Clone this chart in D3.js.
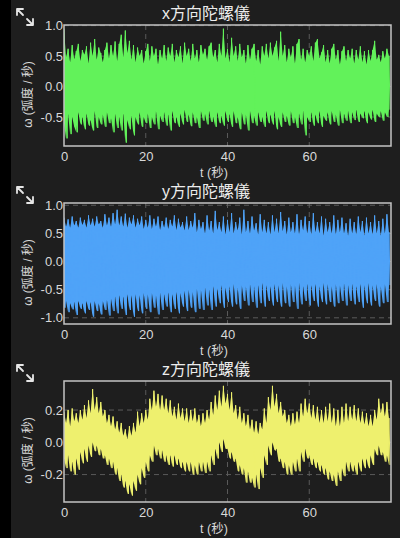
<!DOCTYPE html>
<meta charset="utf-8">
<title>陀螺儀</title>
<style>
  body { margin: 0; background: #1e1e1e; }
  svg { display: block; }
  text { font-family: "Liberation Sans", "Noto Sans CJK TC", sans-serif; }
</style>
<svg width="400" height="538"></svg>
<script src="https://d3js.org/d3.v7.min.js"></script>
<script>

// sample bins: one max/min pair per half second, 0 .. 79.5 s
var binStep = 0.5;
var xTicks = [0, 20, 40, 60];

var xGyroHi = [0.95,0.48,0.62,0.4,0.68,0.45,0.58,0.7,0.42,0.6,
  0.52,0.66,0.38,0.72,0.5,0.78,0.44,0.64,0.55,0.4,
  0.6,0.72,0.46,0.68,0.5,0.74,0.42,0.7,0.85,0.48,
  0.92,0.55,0.75,0.44,0.68,0.4,0.64,0.5,0.6,0.38,
  0.58,0.7,0.42,0.66,0.5,0.62,0.36,0.6,0.46,0.68,
  0.42,0.64,0.5,0.7,0.4,0.6,0.48,0.66,0.38,0.72,
  0.5,0.62,0.42,0.7,0.46,0.6,0.4,0.68,0.52,0.62,
  0.44,0.66,0.72,0.48,0.6,0.4,0.7,0.5,0.95,0.46,
  0.62,0.4,0.8,0.5,0.66,0.42,0.7,0.48,0.6,0.38,
  0.68,0.44,0.62,0.7,0.42,0.6,0.36,0.66,0.5,0.7,
  0.46,0.72,0.5,0.64,0.75,0.42,0.9,0.5,0.68,0.4,
  0.62,0.48,0.66,0.38,0.7,0.78,0.44,0.62,0.4,0.6,
  0.5,0.66,0.42,0.72,0.78,0.46,0.56,0.68,0.4,0.6,
  0.38,0.62,0.7,0.44,0.6,0.36,0.58,0.66,0.42,0.6,
  0.46,0.62,0.38,0.6,0.44,0.66,0.4,0.58,0.36,0.6,
  0.42,0.6,0.75,0.44,0.52,0.4,0.58,0.46,0.62,0.5];
var xGyroLo = [-0.6,-0.85,-0.45,-0.78,-0.5,-0.66,-0.75,-0.42,-0.62,-0.5,
  -0.7,-0.44,-0.64,-0.55,-0.72,-0.4,-0.68,-0.5,-0.62,-0.46,
  -0.66,-0.42,-0.6,-0.52,-0.75,-0.45,-0.68,-0.5,-0.72,-0.44,
  -0.92,-0.55,-0.7,-0.48,-0.8,-0.5,-0.62,-0.42,-0.66,-0.5,
  -0.6,-0.44,-0.68,-0.5,-0.62,-0.4,-0.7,-0.48,-0.58,-0.42,
  -0.64,-0.46,-0.72,-0.4,-0.6,-0.5,-0.66,-0.44,-0.62,-0.38,
  -0.58,-0.46,-0.65,-0.42,-0.6,-0.5,-0.68,-0.4,-0.56,-0.45,
  -0.62,-0.4,-0.58,-0.5,-0.66,-0.42,-0.6,-0.48,-0.64,-0.4,
  -0.58,-0.45,-0.66,-0.4,-0.6,-0.5,-0.7,-0.42,-0.62,-0.46,
  -0.72,-0.4,-0.6,-0.48,-0.64,-0.42,-0.58,-0.5,-0.66,-0.4,
  -0.6,-0.46,-0.62,-0.4,-0.7,-0.5,-0.66,-0.42,-0.58,-0.48,
  -0.64,-0.4,-0.6,-0.5,-0.68,-0.44,-0.62,-0.4,-0.8,-0.5,
  -0.58,-0.42,-0.64,-0.46,-0.6,-0.4,-0.66,-0.48,-0.56,-0.42,
  -0.62,-0.4,-0.58,-0.46,-0.64,-0.38,-0.6,-0.44,-0.56,-0.4,
  -0.6,-0.42,-0.55,-0.38,-0.58,-0.44,-0.52,-0.4,-0.6,-0.42,
  -0.54,-0.38,-0.58,-0.44,-0.5,-0.4,-0.56,-0.42,-0.5,-0.38];

var yGyroHi = [0.78,0.62,0.75,0.6,0.8,0.64,0.72,0.6,0.78,0.65,
  0.74,0.6,0.82,0.64,0.76,0.62,0.8,0.66,0.72,0.6,
  0.84,0.64,0.78,0.62,0.86,0.66,0.92,0.64,0.8,0.62,
  0.85,0.6,0.78,0.66,0.82,0.6,0.76,0.64,0.8,0.58,
  0.74,0.6,0.82,0.58,0.76,0.62,0.8,0.56,0.72,0.6,
  0.78,0.58,0.74,0.62,0.82,0.56,0.76,0.6,0.7,0.55,
  0.8,0.56,0.72,0.6,0.86,0.52,0.74,0.58,0.7,0.5,
  0.82,0.55,0.72,0.5,0.9,0.56,0.7,0.52,0.8,0.48,
  0.74,0.52,0.86,0.5,0.7,0.55,0.78,0.48,0.92,0.52,
  0.72,0.5,0.8,0.55,0.68,0.48,0.84,0.52,0.74,0.5,
  0.7,0.48,0.82,0.52,0.76,0.5,0.88,0.54,0.72,0.48,
  0.78,0.52,0.7,0.5,0.84,0.48,0.74,0.55,0.8,0.5,
  0.72,0.48,0.86,0.52,0.7,0.5,0.8,0.46,0.76,0.52,
  0.7,0.5,0.82,0.48,0.74,0.52,0.78,0.5,0.68,0.46,
  0.76,0.5,0.7,0.48,0.8,0.52,0.72,0.46,0.78,0.5,
  0.7,0.48,0.82,0.5,0.72,0.46,0.76,0.5,0.84,0.52];
var yGyroLo = [-0.82,-0.7,-0.9,-0.74,-0.85,-0.72,-0.95,-0.7,-0.84,-0.74,
  -0.92,-0.7,-0.86,-0.72,-0.98,-0.7,-0.88,-0.74,-0.94,-0.7,
  -0.86,-0.68,-0.96,-0.66,-0.88,-0.62,-0.92,-0.6,-0.84,-0.62,
  -0.95,-0.58,-0.86,-0.6,-0.98,-0.58,-0.88,-0.6,-0.92,-0.56,
  -0.84,-0.58,-0.9,-0.56,-0.82,-0.6,-0.94,-0.56,-0.86,-0.58,
  -0.8,-0.55,-0.9,-0.58,-0.84,-0.54,-0.92,-0.56,-0.8,-0.52,
  -0.88,-0.5,-0.82,-0.54,-0.9,-0.48,-0.84,-0.5,-0.86,-0.46,
  -0.78,-0.5,-0.86,-0.44,-0.8,-0.48,-0.74,-0.42,-0.82,-0.46,
  -0.72,-0.44,-0.8,-0.4,-0.76,-0.46,-0.84,-0.42,-0.7,-0.44,
  -0.78,-0.4,-0.72,-0.44,-0.82,-0.42,-0.74,-0.38,-0.8,-0.42,
  -0.7,-0.44,-0.78,-0.4,-0.72,-0.42,-0.8,-0.38,-0.74,-0.44,
  -0.8,-0.4,-0.72,-0.42,-0.84,-0.38,-0.76,-0.44,-0.7,-0.4,
  -0.78,-0.42,-0.7,-0.4,-0.8,-0.44,-0.72,-0.38,-0.76,-0.4,
  -0.72,-0.44,-0.8,-0.4,-0.74,-0.42,-0.7,-0.38,-0.78,-0.42,
  -0.7,-0.4,-0.76,-0.44,-0.72,-0.4,-0.82,-0.42,-0.74,-0.38,
  -0.78,-0.42,-0.7,-0.4,-0.8,-0.44,-0.74,-0.4,-0.72,-0.42];

var zGyroHi = [0.19,0.12,0.2,0.1,0.21,0.13,0.18,0.12,0.2,0.14,
  0.23,0.15,0.26,0.18,0.33,0.2,0.28,0.18,0.25,0.16,
  0.2,0.12,0.17,0.1,0.16,0.08,0.13,0.06,0.12,0.04,
  0.08,0.02,0.1,0.04,0.12,0.06,0.19,0.1,0.18,0.12,
  0.2,0.14,0.27,0.2,0.32,0.22,0.3,0.2,0.29,0.2,
  0.27,0.18,0.26,0.16,0.22,0.14,0.24,0.15,0.21,0.13,
  0.21,0.12,0.2,0.13,0.21,0.12,0.17,0.1,0.18,0.12,
  0.2,0.14,0.25,0.17,0.29,0.2,0.32,0.22,0.35,0.24,
  0.3,0.2,0.31,0.18,0.23,0.14,0.22,0.12,0.18,0.1,
  0.17,0.08,0.14,0.06,0.13,0.05,0.12,0.08,0.21,0.12,
  0.28,0.2,0.35,0.22,0.3,0.18,0.25,0.16,0.2,0.12,
  0.17,0.1,0.18,0.11,0.19,0.12,0.24,0.16,0.27,0.18,
  0.24,0.15,0.23,0.14,0.22,0.12,0.2,0.12,0.22,0.13,
  0.24,0.12,0.21,0.1,0.2,0.1,0.22,0.12,0.24,0.13,
  0.22,0.14,0.23,0.13,0.21,0.12,0.19,0.11,0.18,0.1,
  0.17,0.1,0.2,0.14,0.27,0.18,0.24,0.16,0.25,0.15];
var zGyroLo = [-0.1,-0.16,-0.08,-0.18,-0.12,-0.2,-0.1,-0.17,-0.06,-0.13,
  -0.04,-0.12,-0.02,-0.09,0.0,-0.055,-0.02,-0.08,-0.04,-0.1,
  -0.08,-0.14,-0.1,-0.16,-0.12,-0.2,-0.16,-0.24,-0.2,-0.28,
  -0.24,-0.32,-0.26,-0.33,-0.24,-0.3,-0.2,-0.26,-0.16,-0.22,
  -0.12,-0.18,-0.08,-0.12,-0.02,-0.08,-0.04,-0.1,-0.05,-0.12,
  -0.08,-0.14,-0.08,-0.15,-0.08,-0.14,-0.1,-0.16,-0.12,-0.18,
  -0.12,-0.18,-0.12,-0.2,-0.14,-0.2,-0.12,-0.18,-0.12,-0.19,
  -0.12,-0.18,-0.08,-0.14,-0.04,-0.1,0.0,-0.06,0.02,-0.04,
  -0.04,-0.1,-0.06,-0.12,-0.1,-0.18,-0.14,-0.2,-0.16,-0.25,
  -0.18,-0.25,-0.22,-0.28,-0.2,-0.29,-0.16,-0.22,-0.08,-0.14,
  -0.02,-0.08,0.0,-0.05,-0.04,-0.12,-0.1,-0.16,-0.12,-0.2,
  -0.14,-0.2,-0.12,-0.18,-0.1,-0.18,-0.06,-0.12,-0.04,-0.1,
  -0.08,-0.14,-0.1,-0.16,-0.12,-0.18,-0.14,-0.2,-0.16,-0.23,
  -0.18,-0.24,-0.2,-0.27,-0.18,-0.24,-0.16,-0.21,-0.12,-0.18,
  -0.12,-0.18,-0.14,-0.2,-0.12,-0.18,-0.1,-0.16,-0.1,-0.16,
  -0.08,-0.14,-0.04,-0.08,-0.02,-0.08,-0.06,-0.12,-0.08,-0.14];

var titles = ["x方向陀螺儀", "y方向陀螺儀", "z方向陀螺儀"];
var colors = ["#62f25a", "#4fa3f8", "#eef06e"];
var yDomains = [[-0.975, 1.01], [-1.11, 1.04], [-0.37, 0.38]];
var yTicks = [[-0.5, 0, 0.5, 1.0], [-1.0, -0.5, 0, 0.5, 1.0], [-0.2, 0, 0.2]];
var series = [[xGyroHi, xGyroLo], [yGyroHi, yGyroLo], [zGyroHi, zGyroLo]];

//layout
var svg = d3.select("svg"),
    plotLeft = 64, plotRight = 391,
    plotTop0 = 25, plotH = 121, panelStep = 178;

svg.append("rect").attr("x", 0).attr("y", 0).attr("width", 11).attr("height", 538).attr("fill", "#000");

var x = d3.scaleLinear().domain([0, 80]).range([plotLeft, plotRight]);
var fmt = function(d) { return d.toFixed(1); };

titles.forEach(function(title, k) {
    var top = plotTop0 + k * panelStep,
        bottom = top + plotH;
    var y = d3.scaleLinear().domain(yDomains[k]).range([bottom, top]);
    var g = svg.append("g");

    // expand icon
    var iy = 9 + k * panelStep;
    g.append("path")
        .attr("d", "M17," + (iy+6) + "V" + iy + "H23M17," + iy + "L23," + (iy+6)
              + "M33," + (iy+10) + "V" + (iy+16) + "H27M33," + (iy+16) + "L27," + (iy+10))
        .attr("fill", "none").attr("stroke", "#e6e6e6").attr("stroke-width", 1.8)
        .attr("stroke-linecap", "round").attr("stroke-linejoin", "round");

    g.append("text")
        .attr("x", 206).attr("y", top - 6)
        .attr("text-anchor", "middle").attr("fill", "#ececec")
        .attr("font-size", 16).text(title);

    // grid
    g.append("g").selectAll("line").data(yTicks[k]).join("line")
        .attr("x1", plotLeft).attr("x2", plotRight)
        .attr("y1", function(d) { return y(d); }).attr("y2", function(d) { return y(d); })
        .attr("stroke", "#5a5a5a").attr("stroke-dasharray", "5,4");
    g.append("g").selectAll("line").data(xTicks.slice(1)).join("line")
        .attr("x1", function(d) { return x(d); }).attr("x2", function(d) { return x(d); })
        .attr("y1", top).attr("y2", bottom)
        .attr("stroke", "#5a5a5a").attr("stroke-dasharray", "5,4");

    // signal: band between bin max and bin min, plus zigzag trace
    var hi = series[k][0], lo = series[k][1], pts = [];
    hi.forEach(function(v, i) {
        pts.push([i * binStep, v]);
        pts.push([i * binStep + binStep / 2, lo[i]]);
    });
    svg.append("clipPath").attr("id", "clip" + k).append("rect")
        .attr("x", plotLeft).attr("y", top).attr("width", plotRight - plotLeft).attr("height", plotH);
    var sig = g.append("g").attr("clip-path", "url(#clip" + k + ")");
    sig.append("path")
        .datum(hi)
        .attr("fill", colors[k])
        .attr("d", d3.area()
            .x(function(d, i) { return x(i * binStep); })
            .y0(function(d, i) { return y(lo[i]); })
            .y1(function(d) { return y(d); }));
    sig.append("path")
        .datum(pts)
        .attr("fill", "none").attr("stroke", colors[k]).attr("stroke-width", 1)
        .attr("d", d3.line().x(function(d) { return x(d[0]); }).y(function(d) { return y(d[1]); }));

    // frame
    g.append("rect")
        .attr("x", plotLeft).attr("y", top).attr("width", plotRight - plotLeft).attr("height", plotH)
        .attr("fill", "none").attr("stroke", "#c4c4c4").attr("stroke-width", 1.5);

    // axes
    var ya = g.append("g").attr("transform", "translate(" + (plotLeft - 1) + ",0)")
        .call(d3.axisLeft(y).tickValues(yTicks[k]).tickSize(0).tickPadding(0).tickFormat(fmt));
    var xa = g.append("g").attr("transform", "translate(0," + (bottom + 5.5) + ")")
        .call(d3.axisBottom(x).tickValues(xTicks).tickSize(0).tickPadding(0).tickFormat(d3.format("d")));
    [ya, xa].forEach(function(a) {
        a.select(".domain").remove();
        a.selectAll("text").attr("fill", "#d9d9d9").attr("font-size", 13)
            .attr("font-family", "Liberation Sans, sans-serif");
    });

    g.append("text")
        .attr("x", 214).attr("y", bottom + 26.5).attr("dy", "0.35em")
        .attr("text-anchor", "middle").attr("fill", "#d9d9d9").attr("font-size", 12.5)
        .text("t (秒)");
    g.append("text")
        .attr("transform", "translate(28," + ((top + bottom) / 2 + 9) + ") rotate(-90)")
        .attr("dy", "0.35em")
        .attr("text-anchor", "middle").attr("fill", "#d9d9d9").attr("font-size", 12)
        .text("ω (弧度 / 秒)");
});

</script>
